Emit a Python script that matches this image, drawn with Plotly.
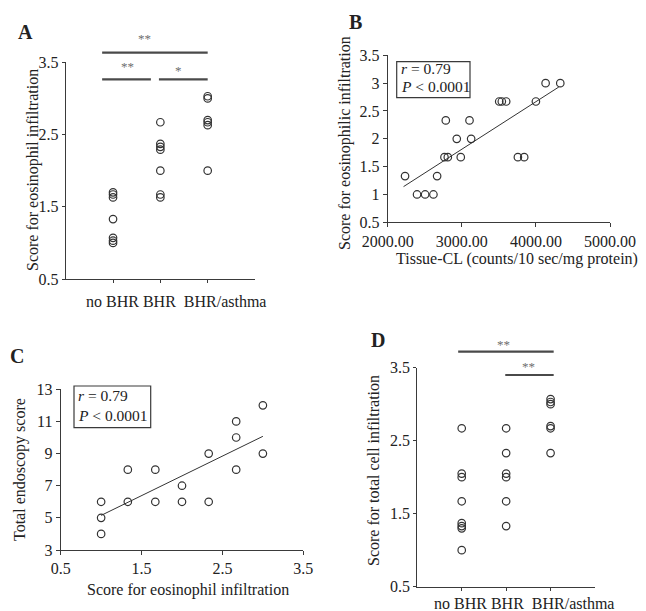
import plotly.graph_objects as go
import numpy as np

W, H = 646, 611
def px(x): return x / W
def py(y): return 1 - y / H

SERIF = "Liberation Serif, Times New Roman, serif"
INK = "#222222"
LINE = "#3a3a3a"

# ---------------- data ----------------
groups = ["no BHR", "BHR", "BHR/asthma"]

# Panel A: score for eosinophil infiltration by group
a_no_bhr = [1.70, 1.67, 1.63, 1.33, 1.07, 1.03, 1.00]
a_bhr = [2.67, 2.37, 2.33, 2.29, 2.00, 1.67, 1.63]
a_asthma = [3.03, 3.00, 2.70, 2.67, 2.63, 2.00]

# Panel B: tissue-CL vs eosinophilic infiltration
b_tissue_cl = [2234, 2396, 2505, 2617, 2667, 2784, 2766, 2811, 2932, 2986,
               3104, 3126, 3505, 3540, 3599, 3757, 3842, 4000, 4131, 4329]
b_eos = [1.33, 1.00, 1.00, 1.00, 1.33, 2.33, 1.67, 1.67, 2.00, 1.67,
         2.33, 2.00, 2.67, 2.67, 2.67, 1.67, 1.67, 2.67, 3.00, 3.00]

# Panel C: eosinophil infiltration vs total endoscopy score
c_eos = [1.00, 1.00, 1.00, 1.33, 1.33, 1.67, 1.67, 2.00, 2.00, 2.33,
         2.33, 2.67, 2.67, 2.67, 3.00, 3.00]
c_endo = [6, 5, 4, 8, 6, 8, 6, 7, 6, 9, 6, 11, 10, 8, 12, 9]

# Panel D: score for total cell infiltration by group
d_no_bhr = [2.67, 2.05, 2.00, 1.67, 1.37, 1.33, 1.30, 1.00]
d_bhr = [2.67, 2.33, 2.05, 2.00, 1.67, 1.33]
d_asthma = [3.07, 3.03, 3.00, 2.70, 2.67, 2.33]

stats_lines = ["<i>r</i> = 0.79", "<i>P</i> < 0.0001"]

# ---------------- figure ----------------
fig = go.Figure()
marker = dict(symbol="circle-open", size=7.5, color="#333333", line=dict(width=1.2))

def add_group_scatter(vals_list, xa, ya):
    for g, vals in zip(groups, vals_list):
        fig.add_trace(go.Scatter(x=[g] * len(vals), y=vals, mode="markers",
                                 marker=marker, xaxis=xa, yaxis=ya,
                                 showlegend=False, hoverinfo="y"))

add_group_scatter([a_no_bhr, a_bhr, a_asthma], "x", "y")

fig.add_trace(go.Scatter(x=b_tissue_cl, y=b_eos, mode="markers", marker=marker,
                         xaxis="x2", yaxis="y2", showlegend=False))
bs, bi = np.polyfit(b_tissue_cl, b_eos, 1)
bx = np.array([min(b_tissue_cl) - 20, max(b_tissue_cl) - 20])
fig.add_trace(go.Scatter(x=bx, y=bs * bx + bi, mode="lines",
                         line=dict(color="#333333", width=1),
                         xaxis="x2", yaxis="y2", showlegend=False))

fig.add_trace(go.Scatter(x=c_eos, y=c_endo, mode="markers", marker=marker,
                         xaxis="x3", yaxis="y3", showlegend=False))
cs, ci = np.polyfit(c_eos, c_endo, 1)
cx = np.array([min(c_eos), max(c_eos)])
fig.add_trace(go.Scatter(x=cx, y=cs * cx + ci, mode="lines",
                         line=dict(color="#333333", width=1),
                         xaxis="x3", yaxis="y3", showlegend=False))

add_group_scatter([d_no_bhr, d_bhr, d_asthma], "x4", "y4")

tickfont = dict(family=SERIF, size=16, color=INK)
def ax(**kw):
    d = dict(showline=True, linecolor=LINE, linewidth=1.2, ticks="outside",
             ticklen=4, tickcolor=LINE, tickwidth=1, showgrid=False,
             zeroline=False, tickfont=tickfont, fixedrange=True,
             automargin=False)
    d.update(kw)
    return d

fig.update_layout(
    template="none",
    width=W, height=H, autosize=False,
    margin=dict(l=0, r=0, t=0, b=0, pad=0),
    paper_bgcolor="white", plot_bgcolor="white",
    font=dict(family=SERIF, color=INK),
    # Panel A
    xaxis=ax(domain=[px(65.7), px(255)], anchor="y", type="category",
             categoryorder="array", categoryarray=groups, range=[-1, 3],
             showticklabels=False, ticklen=3),
    yaxis=ax(domain=[py(279), py(62.3)], anchor="x", range=[0.5, 3.5],
             tickvals=[0.5, 1.5, 2.5, 3.5], ticklen=3),
    # Panel B
    xaxis2=ax(domain=[px(387.7), px(610)], anchor="y2", range=[2000, 5000],
              tickvals=[2000, 3000, 4000, 5000], tickformat=".2f"),
    yaxis2=ax(domain=[py(222.3), py(55.3)], anchor="x2", range=[0.5, 3.5],
              tickvals=[0.5, 1, 1.5, 2, 2.5, 3, 3.5]),
    # Panel C
    xaxis3=ax(domain=[px(60.7), px(303.3)], anchor="y3", range=[0.5, 3.5],
              tickvals=[0.5, 1.5, 2.5, 3.5]),
    yaxis3=ax(domain=[py(550), py(389.3)], anchor="x3", range=[3, 13],
              tickvals=[3, 5, 7, 9, 11, 13]),
    # Panel D
    xaxis4=ax(domain=[px(417.3), px(595)], anchor="y4", type="category",
              categoryorder="array", categoryarray=groups, range=[-1, 3],
              showticklabels=False, ticklen=3),
    yaxis4=ax(domain=[py(586.7), py(367.7)], anchor="x4", range=[0.5, 3.5],
              tickvals=[0.5, 1.5, 2.5, 3.5], ticklen=3),
)

annotations = []
def txt(x, y, text, size=16, angle=0, xanchor="center", yanchor="middle",
        color=INK, bold=False):
    if bold:
        text = "<b>" + text + "</b>"
    annotations.append(dict(x=px(x), y=py(y), xref="paper", yref="paper",
                            text=text, showarrow=False, textangle=angle,
                            xanchor=xanchor, yanchor=yanchor,
                            font=dict(family=SERIF, size=size, color=color)))

# panel letters
txt(25, 32, "A", size=20, bold=True)
txt(355, 22, "B", size=20, bold=True)
txt(17, 356, "C", size=20, bold=True)
txt(378, 340, "D", size=20, bold=True)

# axis titles
txt(33, 170, "Score for eosinophil infiltration", angle=-90)
txt(345, 143, "Score for eosinophilic infiltration", angle=-90)
txt(517, 259, "Tissue-CL (counts/10 sec/mg protein)")
txt(20, 470, "Total endoscopy score", angle=-90)
txt(188, 590, "Score for eosinophil infiltration")
txt(373, 471, "Score for total cell infiltration", angle=-90)

# group labels under category axes
group_label = "{} {}&nbsp;&nbsp;{}".format(*groups)
txt(84, 302, group_label, xanchor="left")
txt(432, 603, group_label, xanchor="left")

# correlation boxes
for (x0, y0, x1, y1, tx, ty1, ty2) in [(396.7, 61.7, 470, 97.7, 398.5, 68.5, 86.5),
                                       (74, 386, 150.7, 427.7, 75.5, 395.5, 415)]:
    fig.add_shape(type="rect", xref="paper", yref="paper",
                  x0=px(x0), x1=px(x1), y0=py(y1), y1=py(y0),
                  line=dict(color=LINE, width=1.2), fillcolor="white")
    txt(tx, ty1, stats_lines[0], size=15.5, xanchor="left")
    txt(tx, ty2, stats_lines[1], size=15.5, xanchor="left")

# significance brackets (x in category units, y in paper)
BR = "#4a4a4a"
def bracket(xref, x0, x1, y):
    fig.add_shape(type="line", xref=xref, yref="paper", x0=x0, x1=x1,
                  y0=py(y), y1=py(y), line=dict(color=BR, width=2.2))

AST = "#6e6e6e"
bracket("x", -0.23, 2.0, 52.7)
bracket("x", -0.23, 0.80, 79.3)
bracket("x", 0.97, 2.0, 79.3)
txt(144, 38, "**", size=13, color=AST)
txt(127.5, 66, "**", size=13, color=AST)
txt(178.3, 70, "*", size=13, color=AST)

bracket("x4", -0.08, 2.07, 351.7)
bracket("x4", 0.98, 2.07, 375)
txt(503.3, 344, "**", size=13, color=AST)
txt(528.3, 366, "**", size=13, color=AST)

fig.update_layout(annotations=annotations)
fig.write_html("out.html")
